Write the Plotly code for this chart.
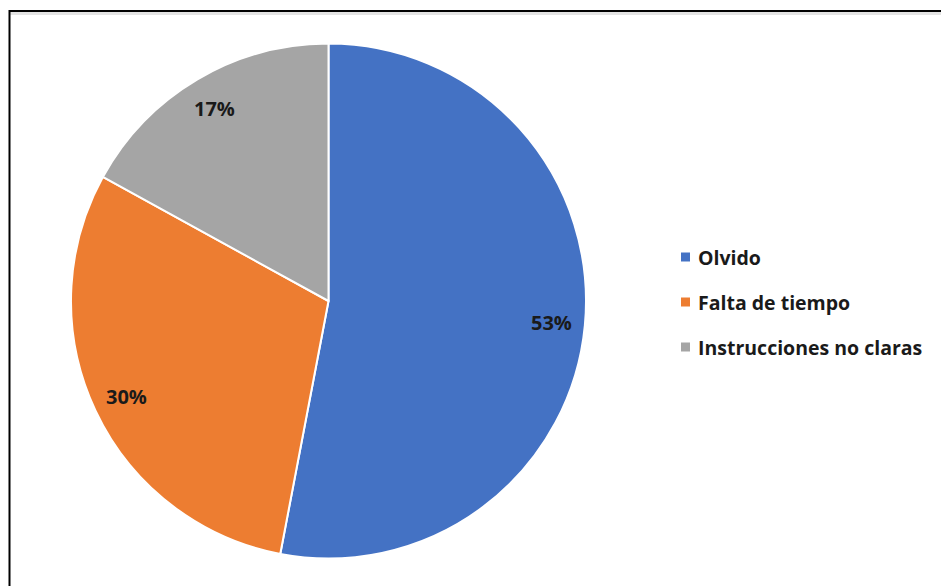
import math
import plotly.graph_objects as go

# Reasons reported (share of responses, %)
categories = ["Olvido", "Falta de tiempo", "Instrucciones no claras"]
values = [53, 30, 17]
colors = ["#4472C4", "#ED7D31", "#A5A5A5"]

W, H = 941, 586
FONT = "Open Sans"
TEXT_COLOR = "#1a1a1a"

# Pie placement in paper fractions
cx_px, cy_px, r_px = 328.5, 301.0, 257.5
dom_x = [(cx_px - r_px) / W, (cx_px + r_px) / W]
dom_y = [(H - cy_px - r_px) / H, (H - cy_px + r_px) / H]

fig = go.Figure(
    go.Pie(
        labels=categories,
        values=values,
        sort=False,
        direction="clockwise",
        rotation=0,
        marker=dict(colors=colors, line=dict(color="white", width=2)),
        textinfo="none",
        hoverinfo="label+percent",
        domain=dict(x=dom_x, y=dom_y),
        showlegend=False,
    )
)

# Percentage labels placed along each slice's mid-angle
total = sum(values)
annotations = []
cum = 0.0
for v in values:
    mid = (cum + v / 2) / total * 2 * math.pi
    cum += v
    rr = 0.868 * r_px
    x = (cx_px + rr * math.sin(mid)) / W
    y = (H - cy_px + rr * math.cos(mid)) / H
    annotations.append(
        dict(
            x=x, y=y, xref="paper", yref="paper",
            text=f"<b>{round(v / total * 100)}%</b>",
            showarrow=False,
            font=dict(family=FONT, size=20, color=TEXT_COLOR),
            xanchor="center", yanchor="middle",
        )
    )

# Frame lines (top and left) with a faint shadow under the top edge
shapes = [
    dict(type="line", xref="paper", yref="paper",
         x0=9 / W, x1=1, y0=1 - 13.5 / H, y1=1 - 13.5 / H,
         line=dict(color="#e3e3e3", width=3)),
    dict(type="line", xref="paper", yref="paper",
         x0=9 / W, x1=1, y0=1 - 11 / H, y1=1 - 11 / H,
         line=dict(color="black", width=2)),
    dict(type="line", xref="paper", yref="paper",
         x0=9.5 / W, x1=9.5 / W, y0=0, y1=1 - 10 / H,
         line=dict(color="black", width=2)),
]

# Legend: coloured square + category name, one row per slice
leg_x_px, leg_y0_px, leg_dy_px, sq = 681, 257, 45, 9
for i, (cat, col) in enumerate(zip(categories, colors)):
    yc = leg_y0_px + i * leg_dy_px
    shapes.append(
        dict(type="rect", xref="paper", yref="paper",
             x0=leg_x_px / W, x1=(leg_x_px + sq) / W,
             y0=1 - (yc + sq / 2) / H, y1=1 - (yc - sq / 2) / H,
             fillcolor=col, line=dict(width=0))
    )
    annotations.append(
        dict(x=(leg_x_px + sq + 6) / W, y=1 - yc / H,
             xref="paper", yref="paper",
             text=f"<b>{cat}</b>", showarrow=False,
             font=dict(family=FONT, size=19.5, color=TEXT_COLOR),
             xanchor="left", yanchor="middle")
    )

fig.update_layout(
    width=W, height=H,
    margin=dict(l=0, r=0, t=0, b=0),
    paper_bgcolor="white",
    plot_bgcolor="white",
    annotations=annotations,
    shapes=shapes,
    showlegend=False,
)

fig.write_html("out.html")
